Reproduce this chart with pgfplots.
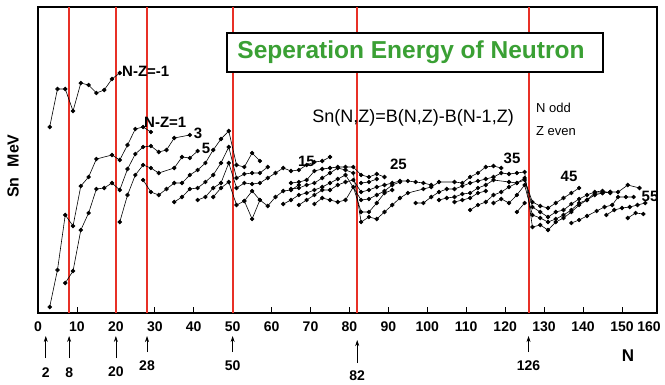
\documentclass[border=0pt]{standalone}
\usepackage{fontspec}
\setmainfont{Liberation Sans}
\usepackage{pgfplots}
\pgfplotsset{compat=1.18}
\usetikzlibrary{arrows.meta}
\definecolor{magic}{RGB}{232,48,38}
\definecolor{titlegreen}{RGB}{58,160,52}
\tikzset{
  arr/.style={-{Stealth[length=6pt,width=4pt]}, line width=0.7pt},
  lab/.style={font=\bfseries\fontsize{14}{14}\selectfont},
  ch/.style={black, line width=0.6pt, mark=*, mark size=1.9pt, mark options={solid, fill=black}},
  magicline/.style={magic, line width=2pt},
}
\begin{document}
\begin{tikzpicture}
\useasboundingbox (0pt,0pt) rectangle (665pt,384pt);
\begin{axis}[
  at={(38pt,71pt)}, anchor=south west,
  scale only axis, width=619pt, height=306pt,
  xmin=0, xmax=159, ymin=0, ymax=306,
  xtick={0,10,...,150}, ytick=\empty,
  xtick pos=left, tick align=inside,
  major tick length=6pt,
  axis line style={line width=1.5pt},
  tick style={line width=0.8pt, black},
  /pgf/number format/assume math mode=true,
  x tick label style={font=\bfseries\fontsize{14}{14}\selectfont, yshift=-5pt},
  clip=false,
]
% magic numbers
\draw[magicline] (axis cs:8,0) -- (axis cs:8,306);
\draw[magicline] (axis cs:20,0) -- (axis cs:20,306);
\draw[magicline] (axis cs:28,0) -- (axis cs:28,306);
\draw[magicline] (axis cs:50,0) -- (axis cs:50,306);
\draw[magicline] (axis cs:82,0) -- (axis cs:82,306);
\draw[magicline] (axis cs:126,0) -- (axis cs:126,306);

% N-Z = -1
\addplot[ch] coordinates {(3,186)(5,224)(7,224)(9,202)(11,230)(13,228)(15,220)(17,223)(19,234)(21,240)};
% N-Z = 1
\addplot[ch] coordinates {(3,6)(5,43)(7,98)(9,87)(11,127)(13,136)(15,154)(19,158)(21,153)(23,168)(25,184)(27,186)(29,181)};
% N-Z = 3
\addplot[ch] coordinates {(7,30)(9,42)(11,83)(13,100)(15,124)(17,125)(19,130)(21,123)(23,144)(25,159)(27,166)(29,167)(31,161)(33,163)(35,175)(39,178)};
% N-Z = 5
\addplot[ch] coordinates {(21,91)(23,118)(25,138)(27,148)(29,145)(31,140)(35,145)(37,156)(39,155)(41,162)};
% 7
\addplot[ch] coordinates {(27,133)(29,121)(31,118)(33,124)(35,130)(37,130)(39,138)(41,143)(43,150)(45,163)(47,174)(49,182)(51,148)(53,146)(55,160)(57,152)};
% 9
\addplot[ch] coordinates {(35,111)(37,116)(39,124)(41,125)(43,131)(45,138)(47,150)(49,166)(51,135)(53,139)(55,140)(57,140)(59,146)};
% 11
\addplot[ch] coordinates {(41,113)(43,116)(45,125)(47,130)(49,150)(51,125)(53,130)(55,129)(57,130)(59,135)(61,140)(63,145)(65,142)(67,143)(69,148)(71,151)(73,152)(75,156)};
% 13
\addplot[ch] coordinates {(45,116)(47,125)(49,131)(51,108)(53,112)(55,94)(57,113)(59,107)(61,116)(63,122)(65,123)(67,128)};
\addplot[ch] coordinates {(53,112)(55,122)(57,113)};
% 50-82 bundle
\addplot[ch] coordinates {(65,130)(67,131)(69,133)(71,142)(73,144)(75,145)(77,146)(79,146)(81,146)(83,138)(85,136)(87,139)(89,136)};
\addplot[ch] coordinates {(65,124)(67,125)(69,128)(71,130)(73,135)(75,140)(77,145)(79,143)(81,140)(83,91)(85,96)(87,94)(89,101)(91,108)(93,115)(95,120)(99,124)(101,126)(103,131)(107,131)(109,130)(111,136)(113,140)(115,146)(117,147)(119,145)};
\addplot[ch] coordinates {(63,109)(65,113)(67,118)(69,120)(71,123)(73,126)(75,130)(77,134)(79,138)(83,113)(85,114)(87,118)(89,122)(91,128)(93,131)};
\addplot[ch] coordinates {(67,108)(69,113)(71,118)(73,123)(75,123)(77,128)(79,131)(81,133)(83,121)(85,123)(87,126)(89,128)(91,130)(93,132)(95,132)(97,131)(99,130)(101,128)};
\addplot[ch] coordinates {(71,109)(73,115)(75,113)(77,111)(79,113)(81,126)(83,101)(85,101)(87,110)(89,120)(91,123)};
\addplot[ch] coordinates {(83,130)(85,131)(87,134)};
% 82-126 bundle
\addplot[ch] coordinates {(97,110)(99,110)(101,116)(103,121)(105,124)(107,124)(109,127)(111,130)(113,132)(115,134)(117,136)(119,140)(121,139)(123,140)(125,141)(127,86)(129,88)(131,83)(133,91)(135,95)(137,101)(139,108)(141,113)(143,120)(145,120)(147,121)};
\addplot[ch] coordinates {(103,113)(105,115)(107,116)(109,119)(111,120)(113,125)(115,128)(117,133)(121,131)(123,130)(125,133)(127,111)(129,107)(131,105)(133,110)(135,115)(137,120)(139,125)};
\addplot[ch] coordinates {(111,103)(113,108)(115,111)(117,118)(119,121)(121,126)(123,130)(125,135)(127,106)(129,101)(131,96)(133,101)(135,103)(137,109)(139,114)(141,118)(143,121)(145,122)(147,120)};
\addplot[ch] coordinates {(117,110)(119,114)(121,110)(123,118)(125,128)(127,98)(129,95)(131,91)(133,94)(135,98)(137,103)(139,110)(141,113)(143,118)(145,120)(147,121)(149,121)(151.5,128)(154.5,125)};
\addplot[ch] coordinates {(123,101)(125,110)};
\addplot[ch] coordinates {(107,111)(109,113)(111,115)(113,120)(115,122)};
% 126+ bundle
\addplot[ch] coordinates {(137,90)(139,93)(141,97)(143.5,102)(145.5,106)(147.5,108)(149,116)(151,116)(153,116)};
\addplot[ch] coordinates {(146,98)(148,103)(150,105)(152,106)(154,108)(156,110)};
\addplot[ch] coordinates {(151.5,95)(153.5,100)(155.5,99)};

% shell-closure arrows below the axis
\draw[arr] (axis cs:2,-45) -- (axis cs:2,-23);
\draw[arr] (axis cs:8,-45) -- (axis cs:8,-23);
\draw[arr] (axis cs:20,-45) -- (axis cs:20,-23);
\draw[arr] (axis cs:28,-39) -- (axis cs:28,-23);
\draw[arr] (axis cs:50,-39) -- (axis cs:50,-23);
\draw[arr] (axis cs:82,-50) -- (axis cs:82,-27);
\draw[arr] (axis cs:126,-39) -- (axis cs:126,-23);
\node[lab] at (axis cs:2,-60) {2};
\node[lab] at (axis cs:8,-60) {8};
\node[lab] at (axis cs:20,-59) {20};
\node[lab] at (axis cs:28,-53) {28};
\node[lab] at (axis cs:50,-53) {50};
\node[lab] at (axis cs:82,-63) {82};
\node[lab] at (axis cs:126,-53) {126};
\end{axis}
% last tick label at the right edge
\node[lab, inner sep=0pt] at (649pt,57pt) {160};
% title box
\node[draw, line width=1.5pt, fill=white, minimum width=376pt, minimum height=39pt, inner sep=0pt] at (415pt,331.5pt) {};
\node[font=\bfseries\fontsize{24.5}{24.5}\selectfont, text=titlegreen, inner sep=0pt] at (411pt,332pt) {Seperation Energy of Neutron};
% formula and notes
\node[font=\fontsize{18}{18}\selectfont, inner sep=0pt] at (413pt,266pt) {Sn(N,Z)=B(N,Z)-B(N-1,Z)};
\node[font=\fontsize{13}{13}\selectfont, anchor=west, inner sep=0pt] at (536pt,276pt) {N odd};
\node[font=\fontsize{13}{13}\selectfont, anchor=west, inner sep=0pt] at (536pt,253pt) {Z even};
% chain labels
\begin{scope}[every node/.style={font=\bfseries\fontsize{15}{15}\selectfont, inner sep=0pt}]
\node[anchor=west] at (122pt,313pt) {N-Z=-1};
\node[anchor=west] at (144pt,261.5pt) {N-Z=1};
\node at (198pt,251pt) {3};
\node at (206pt,235.5pt) {5};
\node at (306.5pt,223pt) {15};
\node at (398.5pt,220pt) {25};
\node at (512pt,225.5pt) {35};
\node at (569pt,208pt) {45};
\node at (650pt,188pt) {55};
\end{scope}
% axis labels
\node[rotate=90, font=\bfseries\fontsize{16}{16}\selectfont] at (13pt,218pt) {Sn\hspace{10pt}MeV};
\node[font=\bfseries\fontsize{17}{17}\selectfont] at (628pt,28pt) {N};
\end{tikzpicture}
\end{document}
